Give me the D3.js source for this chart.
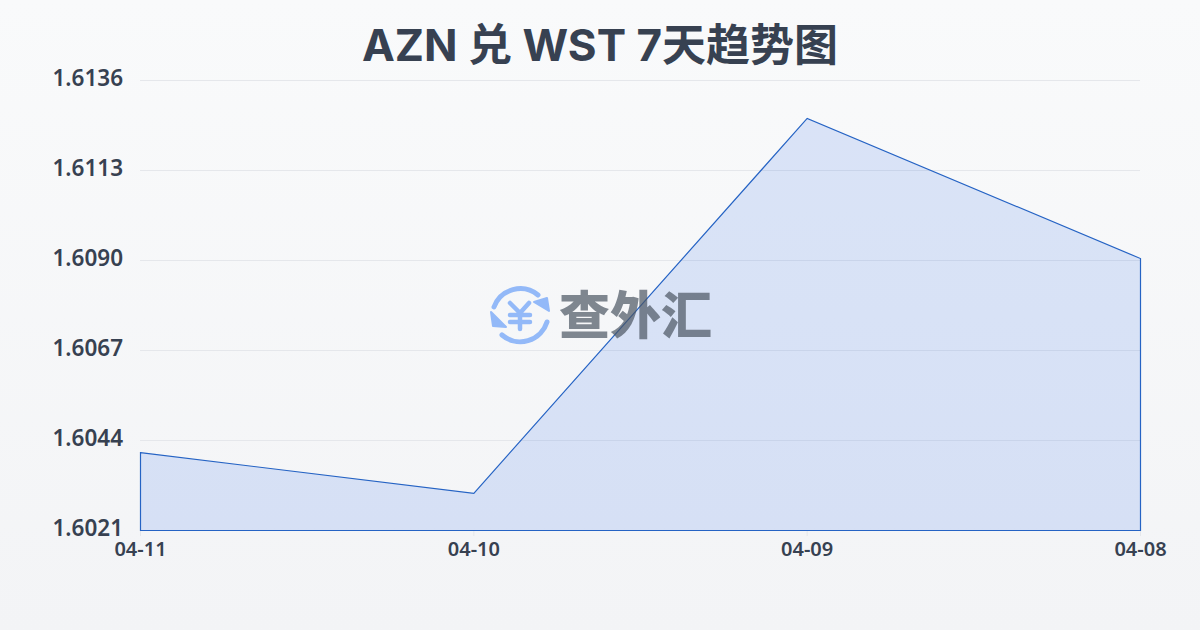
<!DOCTYPE html>
<html><head><meta charset="utf-8">
<script src="https://cdn.jsdelivr.net/npm/d3@7/dist/d3.min.js"></script>
<style>html,body{margin:0;padding:0;background:#f8fafc}svg{display:block}</style>
</head><body><div id="c"></div>
<script>
const titleText = "AZN 兑 WST 7天趋势图";
const categories = ["04-11","04-10","04-09","04-08"];
const seriesValues = [1.60409,1.60305,1.61263,1.60905];
const yTicks = [1.6021,1.6044,1.6067,1.6090,1.6113,1.6136];
const watermark = "查外汇";
const font = 'Inter,"Noto Sans CJK SC",sans-serif';
const tickFont = '"Noto Sans","Noto Sans CJK SC",sans-serif';
const W=1200,H=630,L=140,R=1140,T=80,B=530;
const svg=d3.select("#c").append("svg").attr("width",W).attr("height",H).attr("viewBox",`0 0 ${W} ${H}`).style("font-family",font);
const g=svg.append("defs").append("linearGradient").attr("id","bg").attr("x1",0).attr("y1",0).attr("x2",0).attr("y2",1);
g.append("stop").attr("offset","0%").attr("stop-color","#f9fafb");
g.append("stop").attr("offset","100%").attr("stop-color","#f3f4f6");
svg.append("rect").attr("width",W).attr("height",H).attr("fill","url(#bg)");
svg.append("text").attr("x",600).attr("y",61).attr("text-anchor","middle").attr("font-size",44).attr("font-weight",700).attr("fill","#374151").text(titleText);
const x=d3.scalePoint().domain(categories).range([L,R]);
const y=d3.scaleLinear().domain([yTicks[0],yTicks[yTicks.length-1]]).range([B,T]);
const gy=svg.append("g").attr("transform",`translate(${L},0)`).call(d3.axisLeft(y).tickValues(yTicks).tickSize(-(R-L)).tickPadding(17).tickFormat(d3.format(".4f")));
gy.select(".domain").remove();
gy.selectAll(".tick line").attr("stroke","#e5e7eb").attr("stroke-width",1);
gy.selectAll(".tick text").attr("font-size",22.5).attr("font-weight",600).attr("fill","#374151").attr("font-family",tickFont).attr("dy","0.25em");
const gx=svg.append("g").attr("transform",`translate(0,${B})`).call(d3.axisBottom(x).tickSize(6).tickPadding(6));
gx.select(".domain").remove();
gx.selectAll(".tick line").attr("stroke","#e5e7eb");
gx.selectAll(".tick text").attr("font-size",20).attr("font-weight",600).attr("fill","#374151").attr("font-family",tickFont);
const area=d3.area().x((d,i)=>x(categories[i])).y0(B).y1(d=>y(d));
svg.append("path").datum(seriesValues).attr("transform","translate(0.5,0.5)").attr("d",area).attr("fill","#2563eb").attr("fill-opacity",0.14).attr("stroke","#2563c4").attr("stroke-width",1.2);
// watermark
const wm=svg.append("g").attr("class","watermark");
const ic=wm.append("g").attr("transform","translate(520,315)").attr("fill","none").attr("stroke","#93b9f8").attr("stroke-linecap","round").attr("stroke-linejoin","round");
ic.append("path").attr("d","M-26,-8A28,28 0 0 1 18,-20").attr("stroke-width",5);
ic.append("path").attr("d","M27,7A28,28 0 0 1 -18,20").attr("stroke-width",5);
ic.append("path").attr("d","M14,-13L27,-17L29,-4Z").attr("fill","#93b9f8").attr("stroke-width",2);
ic.append("path").attr("d","M-14,12L-29,-3L-27,11Z").attr("fill","#93b9f8").attr("stroke-width",2);
ic.append("path").attr("d","M-10,-12L0,-2L9,-12M0,-2V14M-10,0H10M-10,7H10").attr("stroke-width",4.5);
wm.append("text").attr("x",635.5).attr("y",334).attr("text-anchor","middle").attr("font-size",51).attr("font-weight",900).attr("fill","#4b5563").attr("fill-opacity",0.7).attr("font-family",'"Noto Sans CJK SC",sans-serif').text(watermark);
</script></body></html>
